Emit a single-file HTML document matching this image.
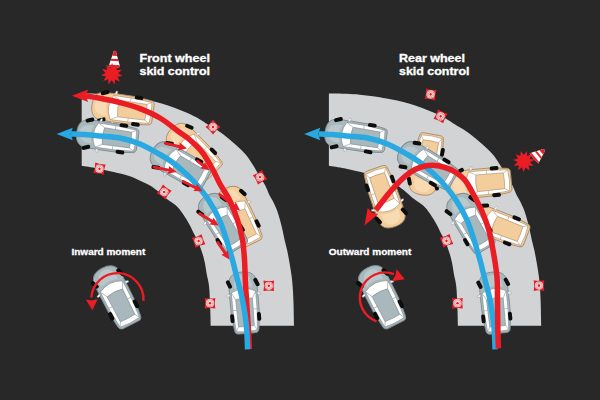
<!DOCTYPE html><html><head><meta charset="utf-8"><title>Skid control</title><style>html,body{margin:0;padding:0;background:#282828;}svg{display:block;font-family:"Liberation Sans",sans-serif;font-weight:bold;}</style></head><body>
<svg width="600" height="400" viewBox="0 0 600 400">
<rect width="600" height="400" fill="#282828"/>
<path d="M81.7,93.5 C84.6,93.5 94.1,93.6 99.2,93.8 C104.3,94.0 108.1,94.3 112.5,94.7 C116.9,95.1 121.3,95.7 125.8,96.3 C130.2,96.9 135.2,97.8 139.2,98.5 C143.2,99.2 146.1,99.7 150.0,100.6 C153.9,101.5 158.3,102.5 162.5,103.8 C166.7,105.0 170.8,106.5 175.0,108.1 C179.2,109.7 183.3,111.2 187.5,113.1 C191.7,115.0 196.7,117.6 200.0,119.4 C203.3,121.2 204.2,122.1 207.5,124.2 C210.8,126.3 215.8,129.0 220.0,131.9 C224.2,134.8 228.3,138.3 232.5,141.9 C236.7,145.5 241.5,149.7 245.0,153.8 C248.5,157.8 251.2,162.3 253.8,166.2 C256.2,170.2 258.1,174.2 260.0,177.3 C261.9,180.4 263.4,182.1 265.0,185.0 C266.6,187.9 268.1,192.4 269.4,195.0 C270.6,197.6 271.2,198.0 272.5,200.5 C273.8,203.0 275.6,206.8 276.9,210.0 C278.1,213.2 279.1,216.7 280.0,220.0 C280.9,223.3 281.7,226.7 282.5,230.0 C283.3,233.3 283.8,236.5 284.6,240.0 C285.4,243.5 286.4,246.8 287.3,251.0 C288.2,255.2 289.1,260.6 289.9,265.0 C290.6,269.4 291.3,273.3 291.8,277.5 C292.3,281.7 292.6,285.8 292.9,290.0 C293.2,294.2 293.3,296.6 293.5,302.5 C293.7,308.4 293.9,321.8 294.0,325.7 L210.7,325.7 C210.6,323.1 210.5,315.9 210.3,310.0 C210.1,304.1 209.7,294.7 209.4,290.0 C209.1,285.3 208.8,284.5 208.4,282.0 C208.0,279.5 207.5,278.0 206.9,275.0 C206.3,272.0 205.7,267.3 205.0,263.8 C204.3,260.2 203.7,257.5 202.5,253.8 C201.3,250.0 199.5,245.0 198.0,241.5 C196.5,238.0 195.0,235.8 193.6,233.0 C192.2,230.2 191.5,228.2 189.7,225.0 C187.9,221.8 185.1,217.0 182.8,213.8 C180.5,210.5 178.8,208.0 176.0,205.5 C173.2,203.0 169.1,200.8 166.2,198.5 C163.4,196.2 161.5,194.1 158.8,191.9 C156.0,189.8 153.5,187.7 150.0,185.6 C146.5,183.5 141.7,181.2 137.5,179.4 C133.3,177.6 129.6,176.1 125.0,174.8 C120.4,173.4 114.7,172.3 110.0,171.2 C105.3,170.2 101.7,169.2 97.0,168.3 C92.3,167.4 84.2,166.2 81.7,165.8 Z" fill="#d2d3d5"/>
<path d="M328.9,93.5 C331.8,93.5 341.3,93.6 346.4,93.8 C351.5,94.0 355.3,94.3 359.7,94.7 C364.1,95.1 368.6,95.7 373.0,96.3 C377.4,96.9 382.4,97.8 386.4,98.5 C390.4,99.2 393.3,99.7 397.2,100.6 C401.1,101.5 405.5,102.5 409.7,103.8 C413.9,105.0 418.0,106.5 422.2,108.1 C426.4,109.7 430.5,111.2 434.7,113.1 C438.9,115.0 443.9,117.6 447.2,119.4 C450.5,121.2 451.4,122.1 454.7,124.2 C458.0,126.3 463.0,129.0 467.2,131.9 C471.4,134.8 475.5,138.3 479.7,141.9 C483.9,145.5 488.7,149.7 492.2,153.8 C495.7,157.8 498.4,162.3 500.9,166.2 C503.4,170.2 505.3,174.2 507.2,177.3 C509.1,180.4 510.6,182.1 512.2,185.0 C513.8,187.9 515.3,192.4 516.6,195.0 C517.8,197.6 518.5,198.0 519.7,200.5 C521.0,203.0 522.8,206.8 524.1,210.0 C525.3,213.2 526.3,216.7 527.2,220.0 C528.1,223.3 528.9,226.7 529.7,230.0 C530.5,233.3 531.0,236.5 531.8,240.0 C532.6,243.5 533.6,246.8 534.5,251.0 C535.4,255.2 536.3,260.6 537.1,265.0 C537.8,269.4 538.5,273.3 539.0,277.5 C539.5,281.7 539.8,285.8 540.1,290.0 C540.4,294.2 540.5,296.6 540.7,302.5 C540.9,308.4 541.1,321.8 541.2,325.7 L457.9,325.7 C457.8,323.1 457.7,315.9 457.5,310.0 C457.3,304.1 456.9,294.7 456.6,290.0 C456.3,285.3 456.0,284.5 455.6,282.0 C455.2,279.5 454.7,278.0 454.1,275.0 C453.5,272.0 452.9,267.3 452.2,263.8 C451.5,260.2 450.9,257.5 449.7,253.8 C448.5,250.0 446.7,245.0 445.2,241.5 C443.7,238.0 442.2,235.8 440.8,233.0 C439.4,230.2 438.7,228.2 436.9,225.0 C435.1,221.8 432.3,217.0 430.0,213.8 C427.7,210.5 426.0,208.0 423.2,205.5 C420.4,203.0 416.3,200.8 413.4,198.5 C410.6,196.2 408.7,194.1 405.9,191.9 C403.2,189.8 400.7,187.7 397.2,185.6 C393.7,183.5 388.9,181.2 384.7,179.4 C380.5,177.6 376.8,176.1 372.2,174.8 C367.6,173.4 361.9,172.3 357.2,171.2 C352.5,170.2 348.9,169.2 344.2,168.3 C339.5,167.4 331.4,166.2 328.9,165.8 Z" fill="#d2d3d5"/>
<g transform="translate(213.0,127.0) rotate(45.0)"><path d="M-5.3,-5.3 Q0,-4.2 5.3,-5.3 Q4.2,0 5.3,5.3 Q0,4.2 -5.3,5.3 Q-4.2,0 -5.3,-5.3 Z" fill="#ea1c24"/><circle r="4.1" fill="#fff"/><circle r="3.5" fill="none" stroke="#6b3a3a" stroke-width="0.45"/><circle r="2.4" fill="none" stroke="#f29a9a" stroke-width="0.9"/><circle r="1.3" fill="#ea1c24"/></g>
<g transform="translate(99.5,168.7) rotate(10.0)"><path d="M-5.3,-5.3 Q0,-4.2 5.3,-5.3 Q4.2,0 5.3,5.3 Q0,4.2 -5.3,5.3 Q-4.2,0 -5.3,-5.3 Z" fill="#ea1c24"/><circle r="4.1" fill="#fff"/><circle r="3.5" fill="none" stroke="#6b3a3a" stroke-width="0.45"/><circle r="2.4" fill="none" stroke="#f29a9a" stroke-width="0.9"/><circle r="1.3" fill="#ea1c24"/></g>
<g transform="translate(164.2,192.0) rotate(35.0)"><path d="M-5.3,-5.3 Q0,-4.2 5.3,-5.3 Q4.2,0 5.3,5.3 Q0,4.2 -5.3,5.3 Q-4.2,0 -5.3,-5.3 Z" fill="#ea1c24"/><circle r="4.1" fill="#fff"/><circle r="3.5" fill="none" stroke="#6b3a3a" stroke-width="0.45"/><circle r="2.4" fill="none" stroke="#f29a9a" stroke-width="0.9"/><circle r="1.3" fill="#ea1c24"/></g>
<g transform="translate(198.6,241.0) rotate(70.0)"><path d="M-5.3,-5.3 Q0,-4.2 5.3,-5.3 Q4.2,0 5.3,5.3 Q0,4.2 -5.3,5.3 Q-4.2,0 -5.3,-5.3 Z" fill="#ea1c24"/><circle r="4.1" fill="#fff"/><circle r="3.5" fill="none" stroke="#6b3a3a" stroke-width="0.45"/><circle r="2.4" fill="none" stroke="#f29a9a" stroke-width="0.9"/><circle r="1.3" fill="#ea1c24"/></g>
<g transform="translate(260.0,177.2) rotate(60.0)"><path d="M-5.3,-5.3 Q0,-4.2 5.3,-5.3 Q4.2,0 5.3,5.3 Q0,4.2 -5.3,5.3 Q-4.2,0 -5.3,-5.3 Z" fill="#ea1c24"/><circle r="4.1" fill="#fff"/><circle r="3.5" fill="none" stroke="#6b3a3a" stroke-width="0.45"/><circle r="2.4" fill="none" stroke="#f29a9a" stroke-width="0.9"/><circle r="1.3" fill="#ea1c24"/></g>
<g transform="translate(268.8,285.8) rotate(0.0)"><path d="M-5.3,-5.3 Q0,-4.2 5.3,-5.3 Q4.2,0 5.3,5.3 Q0,4.2 -5.3,5.3 Q-4.2,0 -5.3,-5.3 Z" fill="#ea1c24"/><circle r="4.1" fill="#fff"/><circle r="3.5" fill="none" stroke="#6b3a3a" stroke-width="0.45"/><circle r="2.4" fill="none" stroke="#f29a9a" stroke-width="0.9"/><circle r="1.3" fill="#ea1c24"/></g>
<g transform="translate(210.0,303.2) rotate(0.0)"><path d="M-5.3,-5.3 Q0,-4.2 5.3,-5.3 Q4.2,0 5.3,5.3 Q0,4.2 -5.3,5.3 Q-4.2,0 -5.3,-5.3 Z" fill="#ea1c24"/><circle r="4.1" fill="#fff"/><circle r="3.5" fill="none" stroke="#6b3a3a" stroke-width="0.45"/><circle r="2.4" fill="none" stroke="#f29a9a" stroke-width="0.9"/><circle r="1.3" fill="#ea1c24"/></g>
<g transform="translate(430.6,94.4) rotate(8.0)"><path d="M-5.3,-5.3 Q0,-4.2 5.3,-5.3 Q4.2,0 5.3,5.3 Q0,4.2 -5.3,5.3 Q-4.2,0 -5.3,-5.3 Z" fill="#ea1c24"/><circle r="4.1" fill="#fff"/><circle r="3.5" fill="none" stroke="#6b3a3a" stroke-width="0.45"/><circle r="2.4" fill="none" stroke="#f29a9a" stroke-width="0.9"/><circle r="1.3" fill="#ea1c24"/></g>
<g transform="translate(440.6,116.3) rotate(25.0)"><path d="M-5.3,-5.3 Q0,-4.2 5.3,-5.3 Q4.2,0 5.3,5.3 Q0,4.2 -5.3,5.3 Q-4.2,0 -5.3,-5.3 Z" fill="#ea1c24"/><circle r="4.1" fill="#fff"/><circle r="3.5" fill="none" stroke="#6b3a3a" stroke-width="0.45"/><circle r="2.4" fill="none" stroke="#f29a9a" stroke-width="0.9"/><circle r="1.3" fill="#ea1c24"/></g>
<g transform="translate(446.5,240.8) rotate(70.0)"><path d="M-5.3,-5.3 Q0,-4.2 5.3,-5.3 Q4.2,0 5.3,5.3 Q0,4.2 -5.3,5.3 Q-4.2,0 -5.3,-5.3 Z" fill="#ea1c24"/><circle r="4.1" fill="#fff"/><circle r="3.5" fill="none" stroke="#6b3a3a" stroke-width="0.45"/><circle r="2.4" fill="none" stroke="#f29a9a" stroke-width="0.9"/><circle r="1.3" fill="#ea1c24"/></g>
<g transform="translate(539.0,285.6) rotate(0.0)"><path d="M-5.3,-5.3 Q0,-4.2 5.3,-5.3 Q4.2,0 5.3,5.3 Q0,4.2 -5.3,5.3 Q-4.2,0 -5.3,-5.3 Z" fill="#ea1c24"/><circle r="4.1" fill="#fff"/><circle r="3.5" fill="none" stroke="#6b3a3a" stroke-width="0.45"/><circle r="2.4" fill="none" stroke="#f29a9a" stroke-width="0.9"/><circle r="1.3" fill="#ea1c24"/></g>
<g transform="translate(457.5,303.2) rotate(0.0)"><path d="M-5.3,-5.3 Q0,-4.2 5.3,-5.3 Q4.2,0 5.3,5.3 Q0,4.2 -5.3,5.3 Q-4.2,0 -5.3,-5.3 Z" fill="#ea1c24"/><circle r="4.1" fill="#fff"/><circle r="3.5" fill="none" stroke="#6b3a3a" stroke-width="0.45"/><circle r="2.4" fill="none" stroke="#f29a9a" stroke-width="0.9"/><circle r="1.3" fill="#ea1c24"/></g>
<g transform="translate(244.4,302.7) rotate(-5.0) scale(1.000)"><path d="M-14,-18 C-14,-26.5 -10,-30.8 0,-30.8 C10,-30.8 14,-26.5 14,-18 L14.2,-6 L14,12 L12.2,27 C12,29.8 10.5,30.8 8,30.8 L-8,30.8 C-10.5,30.8 -12,29.8 -12.2,27 L-14,12 L-14.2,-6 Z" fill="#a9b8bc" stroke="#7e8c91" stroke-width="0.9"/><path d="M-9,-14.5 C-9.5,-24 -6,-28 0,-28 C6,-28 9.5,-24 9,-14.5 Q0,-18.5 -9,-14.5 Z" fill="#bac7cb"/><path d="M-13.8,-9.8 L-17,-8.6 L-16.8,-7 L-13.8,-7.4 Z M13.8,-9.8 L17,-8.6 L16.8,-7 L13.8,-7.4 Z" fill="#fff" stroke="#7e8c91" stroke-width="0.4"/><path d="M-12.2,-10.8 Q0,-17.5 12.2,-10.8 L12.1,8 L10.6,28.2 Q0,30 -10.6,28.2 L-12.1,8 Z" fill="#ffffff" stroke="#7e8c91" stroke-width="0.6"/><path d="M-12.2,-10.8 L-8.4,-3.8 M12.2,-10.8 L8.4,-3.8 M-10.6,28.2 L-7.9,23.6 M10.6,28.2 L7.9,23.6 M-12.1,7 L-8.4,7 M12.1,7 L8.4,7" stroke="#7e8c91" stroke-width="0.5" fill="none"/><path d="M-8.4,-3.8 Q0,-5.8 8.4,-3.8 L7.9,23.6 Q0,24.4 -7.9,23.6 Z" fill="#a9b8bc" stroke="#7e8c91" stroke-width="0.6"/><g fill="#0d0d0d"><rect x="-15.8" y="-23.9" width="4" height="8.8" rx="1.8" transform="rotate(-22 -13.8 -19.5)"/><rect x="11.8" y="-23.9" width="4" height="8.8" rx="1.8" transform="rotate(-22 13.8 -19.5)"/><rect x="-15.4" y="10.5" width="3.9" height="8.8" rx="1.8"/><rect x="11.5" y="10.5" width="3.9" height="8.8" rx="1.8"/></g></g>
<g transform="translate(239.0,216.0) rotate(-26.0) scale(1.000)"><path d="M-14,-18 C-14,-26.5 -10,-30.8 0,-30.8 C10,-30.8 14,-26.5 14,-18 L14.2,-6 L14,12 L12.2,27 C12,29.8 10.5,30.8 8,30.8 L-8,30.8 C-10.5,30.8 -12,29.8 -12.2,27 L-14,12 L-14.2,-6 Z" fill="#f4cd9c" stroke="#a88e6e" stroke-width="0.9"/><path d="M-9,-14.5 C-9.5,-24 -6,-28 0,-28 C6,-28 9.5,-24 9,-14.5 Q0,-18.5 -9,-14.5 Z" fill="#f8dab3"/><path d="M-13.8,-9.8 L-17,-8.6 L-16.8,-7 L-13.8,-7.4 Z M13.8,-9.8 L17,-8.6 L16.8,-7 L13.8,-7.4 Z" fill="#fff" stroke="#a88e6e" stroke-width="0.4"/><path d="M-12.2,-10.8 Q0,-17.5 12.2,-10.8 L12.1,8 L10.6,28.2 Q0,30 -10.6,28.2 L-12.1,8 Z" fill="#ffffff" stroke="#a88e6e" stroke-width="0.6"/><path d="M-12.2,-10.8 L-8.4,-3.8 M12.2,-10.8 L8.4,-3.8 M-10.6,28.2 L-7.9,23.6 M10.6,28.2 L7.9,23.6 M-12.1,7 L-8.4,7 M12.1,7 L8.4,7" stroke="#a88e6e" stroke-width="0.5" fill="none"/><path d="M-8.4,-3.8 Q0,-5.8 8.4,-3.8 L7.9,23.6 Q0,24.4 -7.9,23.6 Z" fill="#f4cd9c" stroke="#a88e6e" stroke-width="0.6"/><g fill="#0d0d0d"><rect x="-15.8" y="-23.9" width="4" height="8.8" rx="1.8" transform="rotate(-22 -13.8 -19.5)"/><rect x="11.8" y="-23.9" width="4" height="8.8" rx="1.8" transform="rotate(-22 13.8 -19.5)"/><rect x="-15.4" y="10.5" width="3.9" height="8.8" rx="1.8"/><rect x="11.5" y="10.5" width="3.9" height="8.8" rx="1.8"/></g></g>
<g transform="translate(222.3,222.3) rotate(-32.0) scale(1.000)"><path d="M-14,-18 C-14,-26.5 -10,-30.8 0,-30.8 C10,-30.8 14,-26.5 14,-18 L14.2,-6 L14,12 L12.2,27 C12,29.8 10.5,30.8 8,30.8 L-8,30.8 C-10.5,30.8 -12,29.8 -12.2,27 L-14,12 L-14.2,-6 Z" fill="#a9b8bc" stroke="#7e8c91" stroke-width="0.9"/><path d="M-9,-14.5 C-9.5,-24 -6,-28 0,-28 C6,-28 9.5,-24 9,-14.5 Q0,-18.5 -9,-14.5 Z" fill="#bac7cb"/><path d="M-13.8,-9.8 L-17,-8.6 L-16.8,-7 L-13.8,-7.4 Z M13.8,-9.8 L17,-8.6 L16.8,-7 L13.8,-7.4 Z" fill="#fff" stroke="#7e8c91" stroke-width="0.4"/><path d="M-12.2,-10.8 Q0,-17.5 12.2,-10.8 L12.1,8 L10.6,28.2 Q0,30 -10.6,28.2 L-12.1,8 Z" fill="#ffffff" stroke="#7e8c91" stroke-width="0.6"/><path d="M-12.2,-10.8 L-8.4,-3.8 M12.2,-10.8 L8.4,-3.8 M-10.6,28.2 L-7.9,23.6 M10.6,28.2 L7.9,23.6 M-12.1,7 L-8.4,7 M12.1,7 L8.4,7" stroke="#7e8c91" stroke-width="0.5" fill="none"/><path d="M-8.4,-3.8 Q0,-5.8 8.4,-3.8 L7.9,23.6 Q0,24.4 -7.9,23.6 Z" fill="#a9b8bc" stroke="#7e8c91" stroke-width="0.6"/><g fill="#0d0d0d"><rect x="-15.8" y="-23.9" width="4" height="8.8" rx="1.8" transform="rotate(-22 -13.8 -19.5)"/><rect x="11.8" y="-23.9" width="4" height="8.8" rx="1.8" transform="rotate(-22 13.8 -19.5)"/><rect x="-15.4" y="10.5" width="3.9" height="8.8" rx="1.8"/><rect x="11.5" y="10.5" width="3.9" height="8.8" rx="1.8"/></g></g>
<g transform="translate(193.4,150.3) rotate(-45.0) scale(1.000)"><path d="M-14,-18 C-14,-26.5 -10,-30.8 0,-30.8 C10,-30.8 14,-26.5 14,-18 L14.2,-6 L14,12 L12.2,27 C12,29.8 10.5,30.8 8,30.8 L-8,30.8 C-10.5,30.8 -12,29.8 -12.2,27 L-14,12 L-14.2,-6 Z" fill="#f4cd9c" stroke="#a88e6e" stroke-width="0.9"/><path d="M-9,-14.5 C-9.5,-24 -6,-28 0,-28 C6,-28 9.5,-24 9,-14.5 Q0,-18.5 -9,-14.5 Z" fill="#f8dab3"/><path d="M-13.8,-9.8 L-17,-8.6 L-16.8,-7 L-13.8,-7.4 Z M13.8,-9.8 L17,-8.6 L16.8,-7 L13.8,-7.4 Z" fill="#fff" stroke="#a88e6e" stroke-width="0.4"/><path d="M-12.2,-10.8 Q0,-17.5 12.2,-10.8 L12.1,8 L10.6,28.2 Q0,30 -10.6,28.2 L-12.1,8 Z" fill="#ffffff" stroke="#a88e6e" stroke-width="0.6"/><path d="M-12.2,-10.8 L-8.4,-3.8 M12.2,-10.8 L8.4,-3.8 M-10.6,28.2 L-7.9,23.6 M10.6,28.2 L7.9,23.6 M-12.1,7 L-8.4,7 M12.1,7 L8.4,7" stroke="#a88e6e" stroke-width="0.5" fill="none"/><path d="M-8.4,-3.8 Q0,-5.8 8.4,-3.8 L7.9,23.6 Q0,24.4 -7.9,23.6 Z" fill="#f4cd9c" stroke="#a88e6e" stroke-width="0.6"/><g fill="#0d0d0d"><rect x="-15.8" y="-23.9" width="4" height="8.8" rx="1.8" transform="rotate(-22 -13.8 -19.5)"/><rect x="11.8" y="-23.9" width="4" height="8.8" rx="1.8" transform="rotate(-22 13.8 -19.5)"/><rect x="-15.4" y="10.5" width="3.9" height="8.8" rx="1.8"/><rect x="11.5" y="10.5" width="3.9" height="8.8" rx="1.8"/></g></g>
<g transform="translate(179.6,165.0) rotate(-60.5) scale(1.000)"><path d="M-14,-18 C-14,-26.5 -10,-30.8 0,-30.8 C10,-30.8 14,-26.5 14,-18 L14.2,-6 L14,12 L12.2,27 C12,29.8 10.5,30.8 8,30.8 L-8,30.8 C-10.5,30.8 -12,29.8 -12.2,27 L-14,12 L-14.2,-6 Z" fill="#a9b8bc" stroke="#7e8c91" stroke-width="0.9"/><path d="M-9,-14.5 C-9.5,-24 -6,-28 0,-28 C6,-28 9.5,-24 9,-14.5 Q0,-18.5 -9,-14.5 Z" fill="#bac7cb"/><path d="M-13.8,-9.8 L-17,-8.6 L-16.8,-7 L-13.8,-7.4 Z M13.8,-9.8 L17,-8.6 L16.8,-7 L13.8,-7.4 Z" fill="#fff" stroke="#7e8c91" stroke-width="0.4"/><path d="M-12.2,-10.8 Q0,-17.5 12.2,-10.8 L12.1,8 L10.6,28.2 Q0,30 -10.6,28.2 L-12.1,8 Z" fill="#ffffff" stroke="#7e8c91" stroke-width="0.6"/><path d="M-12.2,-10.8 L-8.4,-3.8 M12.2,-10.8 L8.4,-3.8 M-10.6,28.2 L-7.9,23.6 M10.6,28.2 L7.9,23.6 M-12.1,7 L-8.4,7 M12.1,7 L8.4,7" stroke="#7e8c91" stroke-width="0.5" fill="none"/><path d="M-8.4,-3.8 Q0,-5.8 8.4,-3.8 L7.9,23.6 Q0,24.4 -7.9,23.6 Z" fill="#a9b8bc" stroke="#7e8c91" stroke-width="0.6"/><g fill="#0d0d0d"><rect x="-15.8" y="-23.9" width="4" height="8.8" rx="1.8" transform="rotate(-22 -13.8 -19.5)"/><rect x="11.8" y="-23.9" width="4" height="8.8" rx="1.8" transform="rotate(-22 13.8 -19.5)"/><rect x="-15.4" y="10.5" width="3.9" height="8.8" rx="1.8"/><rect x="11.5" y="10.5" width="3.9" height="8.8" rx="1.8"/></g></g>
<g transform="translate(122.5,109.0) rotate(-82.0) scale(1.000)"><path d="M-14,-18 C-14,-26.5 -10,-30.8 0,-30.8 C10,-30.8 14,-26.5 14,-18 L14.2,-6 L14,12 L12.2,27 C12,29.8 10.5,30.8 8,30.8 L-8,30.8 C-10.5,30.8 -12,29.8 -12.2,27 L-14,12 L-14.2,-6 Z" fill="#f4cd9c" stroke="#a88e6e" stroke-width="0.9"/><path d="M-9,-14.5 C-9.5,-24 -6,-28 0,-28 C6,-28 9.5,-24 9,-14.5 Q0,-18.5 -9,-14.5 Z" fill="#f8dab3"/><path d="M-13.8,-9.8 L-17,-8.6 L-16.8,-7 L-13.8,-7.4 Z M13.8,-9.8 L17,-8.6 L16.8,-7 L13.8,-7.4 Z" fill="#fff" stroke="#a88e6e" stroke-width="0.4"/><path d="M-12.2,-10.8 Q0,-17.5 12.2,-10.8 L12.1,8 L10.6,28.2 Q0,30 -10.6,28.2 L-12.1,8 Z" fill="#ffffff" stroke="#a88e6e" stroke-width="0.6"/><path d="M-12.2,-10.8 L-8.4,-3.8 M12.2,-10.8 L8.4,-3.8 M-10.6,28.2 L-7.9,23.6 M10.6,28.2 L7.9,23.6 M-12.1,7 L-8.4,7 M12.1,7 L8.4,7" stroke="#a88e6e" stroke-width="0.5" fill="none"/><path d="M-8.4,-3.8 Q0,-5.8 8.4,-3.8 L7.9,23.6 Q0,24.4 -7.9,23.6 Z" fill="#f4cd9c" stroke="#a88e6e" stroke-width="0.6"/><g fill="#0d0d0d"><rect x="-15.8" y="-23.9" width="4" height="8.8" rx="1.8" transform="rotate(-22 -13.8 -19.5)"/><rect x="11.8" y="-23.9" width="4" height="8.8" rx="1.8" transform="rotate(-22 13.8 -19.5)"/><rect x="-15.4" y="10.5" width="3.9" height="8.8" rx="1.8"/><rect x="11.5" y="10.5" width="3.9" height="8.8" rx="1.8"/></g></g>
<g transform="translate(107.2,136.6) rotate(-81.5) scale(1.000)"><path d="M-14,-18 C-14,-26.5 -10,-30.8 0,-30.8 C10,-30.8 14,-26.5 14,-18 L14.2,-6 L14,12 L12.2,27 C12,29.8 10.5,30.8 8,30.8 L-8,30.8 C-10.5,30.8 -12,29.8 -12.2,27 L-14,12 L-14.2,-6 Z" fill="#a9b8bc" stroke="#7e8c91" stroke-width="0.9"/><path d="M-9,-14.5 C-9.5,-24 -6,-28 0,-28 C6,-28 9.5,-24 9,-14.5 Q0,-18.5 -9,-14.5 Z" fill="#bac7cb"/><path d="M-13.8,-9.8 L-17,-8.6 L-16.8,-7 L-13.8,-7.4 Z M13.8,-9.8 L17,-8.6 L16.8,-7 L13.8,-7.4 Z" fill="#fff" stroke="#7e8c91" stroke-width="0.4"/><path d="M-12.2,-10.8 Q0,-17.5 12.2,-10.8 L12.1,8 L10.6,28.2 Q0,30 -10.6,28.2 L-12.1,8 Z" fill="#ffffff" stroke="#7e8c91" stroke-width="0.6"/><path d="M-12.2,-10.8 L-8.4,-3.8 M12.2,-10.8 L8.4,-3.8 M-10.6,28.2 L-7.9,23.6 M10.6,28.2 L7.9,23.6 M-12.1,7 L-8.4,7 M12.1,7 L8.4,7" stroke="#7e8c91" stroke-width="0.5" fill="none"/><path d="M-8.4,-3.8 Q0,-5.8 8.4,-3.8 L7.9,23.6 Q0,24.4 -7.9,23.6 Z" fill="#a9b8bc" stroke="#7e8c91" stroke-width="0.6"/><g fill="#0d0d0d"><rect x="-15.8" y="-23.9" width="4" height="8.8" rx="1.8" transform="rotate(-22 -13.8 -19.5)"/><rect x="11.8" y="-23.9" width="4" height="8.8" rx="1.8" transform="rotate(-22 13.8 -19.5)"/><rect x="-15.4" y="10.5" width="3.9" height="8.8" rx="1.8"/><rect x="11.5" y="10.5" width="3.9" height="8.8" rx="1.8"/></g></g>
<g transform="translate(495.2,302.7) rotate(-6.0) scale(1.000)"><path d="M-14,-18 C-14,-26.5 -10,-30.8 0,-30.8 C10,-30.8 14,-26.5 14,-18 L14.2,-6 L14,12 L12.2,27 C12,29.8 10.5,30.8 8,30.8 L-8,30.8 C-10.5,30.8 -12,29.8 -12.2,27 L-14,12 L-14.2,-6 Z" fill="#a9b8bc" stroke="#7e8c91" stroke-width="0.9"/><path d="M-9,-14.5 C-9.5,-24 -6,-28 0,-28 C6,-28 9.5,-24 9,-14.5 Q0,-18.5 -9,-14.5 Z" fill="#bac7cb"/><path d="M-13.8,-9.8 L-17,-8.6 L-16.8,-7 L-13.8,-7.4 Z M13.8,-9.8 L17,-8.6 L16.8,-7 L13.8,-7.4 Z" fill="#fff" stroke="#7e8c91" stroke-width="0.4"/><path d="M-12.2,-10.8 Q0,-17.5 12.2,-10.8 L12.1,8 L10.6,28.2 Q0,30 -10.6,28.2 L-12.1,8 Z" fill="#ffffff" stroke="#7e8c91" stroke-width="0.6"/><path d="M-12.2,-10.8 L-8.4,-3.8 M12.2,-10.8 L8.4,-3.8 M-10.6,28.2 L-7.9,23.6 M10.6,28.2 L7.9,23.6 M-12.1,7 L-8.4,7 M12.1,7 L8.4,7" stroke="#7e8c91" stroke-width="0.5" fill="none"/><path d="M-8.4,-3.8 Q0,-5.8 8.4,-3.8 L7.9,23.6 Q0,24.4 -7.9,23.6 Z" fill="#a9b8bc" stroke="#7e8c91" stroke-width="0.6"/><g fill="#0d0d0d"><rect x="-15.8" y="-23.9" width="4" height="8.8" rx="1.8" transform="rotate(-22 -13.8 -19.5)"/><rect x="11.8" y="-23.9" width="4" height="8.8" rx="1.8" transform="rotate(-22 13.8 -19.5)"/><rect x="-15.4" y="10.5" width="3.9" height="8.8" rx="1.8"/><rect x="11.5" y="10.5" width="3.9" height="8.8" rx="1.8"/></g></g>
<g transform="translate(498.0,225.5) rotate(-69.0) scale(1.000)"><path d="M-14,-18 C-14,-26.5 -10,-30.8 0,-30.8 C10,-30.8 14,-26.5 14,-18 L14.2,-6 L14,12 L12.2,27 C12,29.8 10.5,30.8 8,30.8 L-8,30.8 C-10.5,30.8 -12,29.8 -12.2,27 L-14,12 L-14.2,-6 Z" fill="#f4cd9c" stroke="#a88e6e" stroke-width="0.9"/><path d="M-9,-14.5 C-9.5,-24 -6,-28 0,-28 C6,-28 9.5,-24 9,-14.5 Q0,-18.5 -9,-14.5 Z" fill="#f8dab3"/><path d="M-13.8,-9.8 L-17,-8.6 L-16.8,-7 L-13.8,-7.4 Z M13.8,-9.8 L17,-8.6 L16.8,-7 L13.8,-7.4 Z" fill="#fff" stroke="#a88e6e" stroke-width="0.4"/><path d="M-12.2,-10.8 Q0,-17.5 12.2,-10.8 L12.1,8 L10.6,28.2 Q0,30 -10.6,28.2 L-12.1,8 Z" fill="#ffffff" stroke="#a88e6e" stroke-width="0.6"/><path d="M-12.2,-10.8 L-8.4,-3.8 M12.2,-10.8 L8.4,-3.8 M-10.6,28.2 L-7.9,23.6 M10.6,28.2 L7.9,23.6 M-12.1,7 L-8.4,7 M12.1,7 L8.4,7" stroke="#a88e6e" stroke-width="0.5" fill="none"/><path d="M-8.4,-3.8 Q0,-5.8 8.4,-3.8 L7.9,23.6 Q0,24.4 -7.9,23.6 Z" fill="#f4cd9c" stroke="#a88e6e" stroke-width="0.6"/><g fill="#0d0d0d"><rect x="-15.8" y="-23.9" width="4" height="8.8" rx="1.8" transform="rotate(-22 -13.8 -19.5)"/><rect x="11.8" y="-23.9" width="4" height="8.8" rx="1.8" transform="rotate(-22 13.8 -19.5)"/><rect x="-15.4" y="10.5" width="3.9" height="8.8" rx="1.8"/><rect x="11.5" y="10.5" width="3.9" height="8.8" rx="1.8"/></g></g>
<g transform="translate(480.5,183.0) rotate(-95.4) scale(1.000)"><path d="M-14,-18 C-14,-26.5 -10,-30.8 0,-30.8 C10,-30.8 14,-26.5 14,-18 L14.2,-6 L14,12 L12.2,27 C12,29.8 10.5,30.8 8,30.8 L-8,30.8 C-10.5,30.8 -12,29.8 -12.2,27 L-14,12 L-14.2,-6 Z" fill="#f4cd9c" stroke="#a88e6e" stroke-width="0.9"/><path d="M-9,-14.5 C-9.5,-24 -6,-28 0,-28 C6,-28 9.5,-24 9,-14.5 Q0,-18.5 -9,-14.5 Z" fill="#f8dab3"/><path d="M-13.8,-9.8 L-17,-8.6 L-16.8,-7 L-13.8,-7.4 Z M13.8,-9.8 L17,-8.6 L16.8,-7 L13.8,-7.4 Z" fill="#fff" stroke="#a88e6e" stroke-width="0.4"/><path d="M-12.2,-10.8 Q0,-17.5 12.2,-10.8 L12.1,8 L10.6,28.2 Q0,30 -10.6,28.2 L-12.1,8 Z" fill="#ffffff" stroke="#a88e6e" stroke-width="0.6"/><path d="M-12.2,-10.8 L-8.4,-3.8 M12.2,-10.8 L8.4,-3.8 M-10.6,28.2 L-7.9,23.6 M10.6,28.2 L7.9,23.6 M-12.1,7 L-8.4,7 M12.1,7 L8.4,7" stroke="#a88e6e" stroke-width="0.5" fill="none"/><path d="M-8.4,-3.8 Q0,-5.8 8.4,-3.8 L7.9,23.6 Q0,24.4 -7.9,23.6 Z" fill="#f4cd9c" stroke="#a88e6e" stroke-width="0.6"/><g fill="#0d0d0d"><rect x="-15.8" y="-23.9" width="4" height="8.8" rx="1.8" transform="rotate(-22 -13.8 -19.5)"/><rect x="11.8" y="-23.9" width="4" height="8.8" rx="1.8" transform="rotate(-22 13.8 -19.5)"/><rect x="-15.4" y="10.5" width="3.9" height="8.8" rx="1.8"/><rect x="11.5" y="10.5" width="3.9" height="8.8" rx="1.8"/></g></g>
<g transform="translate(470.3,222.5) rotate(-30.5) scale(1.000)"><path d="M-14,-18 C-14,-26.5 -10,-30.8 0,-30.8 C10,-30.8 14,-26.5 14,-18 L14.2,-6 L14,12 L12.2,27 C12,29.8 10.5,30.8 8,30.8 L-8,30.8 C-10.5,30.8 -12,29.8 -12.2,27 L-14,12 L-14.2,-6 Z" fill="#a9b8bc" stroke="#7e8c91" stroke-width="0.9"/><path d="M-9,-14.5 C-9.5,-24 -6,-28 0,-28 C6,-28 9.5,-24 9,-14.5 Q0,-18.5 -9,-14.5 Z" fill="#bac7cb"/><path d="M-13.8,-9.8 L-17,-8.6 L-16.8,-7 L-13.8,-7.4 Z M13.8,-9.8 L17,-8.6 L16.8,-7 L13.8,-7.4 Z" fill="#fff" stroke="#7e8c91" stroke-width="0.4"/><path d="M-12.2,-10.8 Q0,-17.5 12.2,-10.8 L12.1,8 L10.6,28.2 Q0,30 -10.6,28.2 L-12.1,8 Z" fill="#ffffff" stroke="#7e8c91" stroke-width="0.6"/><path d="M-12.2,-10.8 L-8.4,-3.8 M12.2,-10.8 L8.4,-3.8 M-10.6,28.2 L-7.9,23.6 M10.6,28.2 L7.9,23.6 M-12.1,7 L-8.4,7 M12.1,7 L8.4,7" stroke="#7e8c91" stroke-width="0.5" fill="none"/><path d="M-8.4,-3.8 Q0,-5.8 8.4,-3.8 L7.9,23.6 Q0,24.4 -7.9,23.6 Z" fill="#a9b8bc" stroke="#7e8c91" stroke-width="0.6"/><g fill="#0d0d0d"><rect x="-15.8" y="-23.9" width="4" height="8.8" rx="1.8" transform="rotate(-22 -13.8 -19.5)"/><rect x="11.8" y="-23.9" width="4" height="8.8" rx="1.8" transform="rotate(-22 13.8 -19.5)"/><rect x="-15.4" y="10.5" width="3.9" height="8.8" rx="1.8"/><rect x="11.5" y="10.5" width="3.9" height="8.8" rx="1.8"/></g></g>
<g transform="translate(426.5,164.5) rotate(-169.5) scale(1.000)"><path d="M-14,-18 C-14,-26.5 -10,-30.8 0,-30.8 C10,-30.8 14,-26.5 14,-18 L14.2,-6 L14,12 L12.2,27 C12,29.8 10.5,30.8 8,30.8 L-8,30.8 C-10.5,30.8 -12,29.8 -12.2,27 L-14,12 L-14.2,-6 Z" fill="#f4cd9c" stroke="#a88e6e" stroke-width="0.9"/><path d="M-9,-14.5 C-9.5,-24 -6,-28 0,-28 C6,-28 9.5,-24 9,-14.5 Q0,-18.5 -9,-14.5 Z" fill="#f8dab3"/><path d="M-13.8,-9.8 L-17,-8.6 L-16.8,-7 L-13.8,-7.4 Z M13.8,-9.8 L17,-8.6 L16.8,-7 L13.8,-7.4 Z" fill="#fff" stroke="#a88e6e" stroke-width="0.4"/><path d="M-12.2,-10.8 Q0,-17.5 12.2,-10.8 L12.1,8 L10.6,28.2 Q0,30 -10.6,28.2 L-12.1,8 Z" fill="#ffffff" stroke="#a88e6e" stroke-width="0.6"/><path d="M-12.2,-10.8 L-8.4,-3.8 M12.2,-10.8 L8.4,-3.8 M-10.6,28.2 L-7.9,23.6 M10.6,28.2 L7.9,23.6 M-12.1,7 L-8.4,7 M12.1,7 L8.4,7" stroke="#a88e6e" stroke-width="0.5" fill="none"/><path d="M-8.4,-3.8 Q0,-5.8 8.4,-3.8 L7.9,23.6 Q0,24.4 -7.9,23.6 Z" fill="#f4cd9c" stroke="#a88e6e" stroke-width="0.6"/><g fill="#0d0d0d"><rect x="-15.8" y="-23.9" width="4" height="8.8" rx="1.8" transform="rotate(-22 -13.8 -19.5)"/><rect x="11.8" y="-23.9" width="4" height="8.8" rx="1.8" transform="rotate(-22 13.8 -19.5)"/><rect x="-15.4" y="10.5" width="3.9" height="8.8" rx="1.8"/><rect x="11.5" y="10.5" width="3.9" height="8.8" rx="1.8"/></g></g>
<g transform="translate(426.8,164.9) rotate(-59.5) scale(1.000)"><path d="M-14,-18 C-14,-26.5 -10,-30.8 0,-30.8 C10,-30.8 14,-26.5 14,-18 L14.2,-6 L14,12 L12.2,27 C12,29.8 10.5,30.8 8,30.8 L-8,30.8 C-10.5,30.8 -12,29.8 -12.2,27 L-14,12 L-14.2,-6 Z" fill="#a9b8bc" stroke="#7e8c91" stroke-width="0.9"/><path d="M-9,-14.5 C-9.5,-24 -6,-28 0,-28 C6,-28 9.5,-24 9,-14.5 Q0,-18.5 -9,-14.5 Z" fill="#bac7cb"/><path d="M-13.8,-9.8 L-17,-8.6 L-16.8,-7 L-13.8,-7.4 Z M13.8,-9.8 L17,-8.6 L16.8,-7 L13.8,-7.4 Z" fill="#fff" stroke="#7e8c91" stroke-width="0.4"/><path d="M-12.2,-10.8 Q0,-17.5 12.2,-10.8 L12.1,8 L10.6,28.2 Q0,30 -10.6,28.2 L-12.1,8 Z" fill="#ffffff" stroke="#7e8c91" stroke-width="0.6"/><path d="M-12.2,-10.8 L-8.4,-3.8 M12.2,-10.8 L8.4,-3.8 M-10.6,28.2 L-7.9,23.6 M10.6,28.2 L7.9,23.6 M-12.1,7 L-8.4,7 M12.1,7 L8.4,7" stroke="#7e8c91" stroke-width="0.5" fill="none"/><path d="M-8.4,-3.8 Q0,-5.8 8.4,-3.8 L7.9,23.6 Q0,24.4 -7.9,23.6 Z" fill="#a9b8bc" stroke="#7e8c91" stroke-width="0.6"/><g fill="#0d0d0d"><rect x="-15.8" y="-23.9" width="4" height="8.8" rx="1.8" transform="rotate(-22 -13.8 -19.5)"/><rect x="11.8" y="-23.9" width="4" height="8.8" rx="1.8" transform="rotate(-22 13.8 -19.5)"/><rect x="-15.4" y="10.5" width="3.9" height="8.8" rx="1.8"/><rect x="11.5" y="10.5" width="3.9" height="8.8" rx="1.8"/></g></g>
<g transform="translate(384.9,197.5) rotate(160.7) scale(1.000)"><path d="M-14,-18 C-14,-26.5 -10,-30.8 0,-30.8 C10,-30.8 14,-26.5 14,-18 L14.2,-6 L14,12 L12.2,27 C12,29.8 10.5,30.8 8,30.8 L-8,30.8 C-10.5,30.8 -12,29.8 -12.2,27 L-14,12 L-14.2,-6 Z" fill="#f4cd9c" stroke="#a88e6e" stroke-width="0.9"/><path d="M-9,-14.5 C-9.5,-24 -6,-28 0,-28 C6,-28 9.5,-24 9,-14.5 Q0,-18.5 -9,-14.5 Z" fill="#f8dab3"/><path d="M-13.8,-9.8 L-17,-8.6 L-16.8,-7 L-13.8,-7.4 Z M13.8,-9.8 L17,-8.6 L16.8,-7 L13.8,-7.4 Z" fill="#fff" stroke="#a88e6e" stroke-width="0.4"/><path d="M-12.2,-10.8 Q0,-17.5 12.2,-10.8 L12.1,8 L10.6,28.2 Q0,30 -10.6,28.2 L-12.1,8 Z" fill="#ffffff" stroke="#a88e6e" stroke-width="0.6"/><path d="M-12.2,-10.8 L-8.4,-3.8 M12.2,-10.8 L8.4,-3.8 M-10.6,28.2 L-7.9,23.6 M10.6,28.2 L7.9,23.6 M-12.1,7 L-8.4,7 M12.1,7 L8.4,7" stroke="#a88e6e" stroke-width="0.5" fill="none"/><path d="M-8.4,-3.8 Q0,-5.8 8.4,-3.8 L7.9,23.6 Q0,24.4 -7.9,23.6 Z" fill="#f4cd9c" stroke="#a88e6e" stroke-width="0.6"/><g fill="#0d0d0d"><rect x="-15.8" y="-23.9" width="4" height="8.8" rx="1.8" transform="rotate(-22 -13.8 -19.5)"/><rect x="11.8" y="-23.9" width="4" height="8.8" rx="1.8" transform="rotate(-22 13.8 -19.5)"/><rect x="-15.4" y="10.5" width="3.9" height="8.8" rx="1.8"/><rect x="11.5" y="10.5" width="3.9" height="8.8" rx="1.8"/></g></g>
<g transform="translate(355.5,136.2) rotate(-81.0) scale(1.000)"><path d="M-14,-18 C-14,-26.5 -10,-30.8 0,-30.8 C10,-30.8 14,-26.5 14,-18 L14.2,-6 L14,12 L12.2,27 C12,29.8 10.5,30.8 8,30.8 L-8,30.8 C-10.5,30.8 -12,29.8 -12.2,27 L-14,12 L-14.2,-6 Z" fill="#a9b8bc" stroke="#7e8c91" stroke-width="0.9"/><path d="M-9,-14.5 C-9.5,-24 -6,-28 0,-28 C6,-28 9.5,-24 9,-14.5 Q0,-18.5 -9,-14.5 Z" fill="#bac7cb"/><path d="M-13.8,-9.8 L-17,-8.6 L-16.8,-7 L-13.8,-7.4 Z M13.8,-9.8 L17,-8.6 L16.8,-7 L13.8,-7.4 Z" fill="#fff" stroke="#7e8c91" stroke-width="0.4"/><path d="M-12.2,-10.8 Q0,-17.5 12.2,-10.8 L12.1,8 L10.6,28.2 Q0,30 -10.6,28.2 L-12.1,8 Z" fill="#ffffff" stroke="#7e8c91" stroke-width="0.6"/><path d="M-12.2,-10.8 L-8.4,-3.8 M12.2,-10.8 L8.4,-3.8 M-10.6,28.2 L-7.9,23.6 M10.6,28.2 L7.9,23.6 M-12.1,7 L-8.4,7 M12.1,7 L8.4,7" stroke="#7e8c91" stroke-width="0.5" fill="none"/><path d="M-8.4,-3.8 Q0,-5.8 8.4,-3.8 L7.9,23.6 Q0,24.4 -7.9,23.6 Z" fill="#a9b8bc" stroke="#7e8c91" stroke-width="0.6"/><g fill="#0d0d0d"><rect x="-15.8" y="-23.9" width="4" height="8.8" rx="1.8" transform="rotate(-22 -13.8 -19.5)"/><rect x="11.8" y="-23.9" width="4" height="8.8" rx="1.8" transform="rotate(-22 13.8 -19.5)"/><rect x="-15.4" y="10.5" width="3.9" height="8.8" rx="1.8"/><rect x="11.5" y="10.5" width="3.9" height="8.8" rx="1.8"/></g></g>
<path d="M249.3,349.0 C249.2,345.8 249.0,338.2 248.5,330.0 C248.0,321.8 247.0,308.3 246.5,300.0 C246.0,291.7 245.6,286.7 245.3,280.0 C245.0,273.3 245.0,266.7 244.5,260.0 C244.0,253.3 243.7,246.7 242.5,240.0 C241.3,233.3 239.7,226.7 237.5,220.0 C235.3,213.3 232.4,206.0 229.5,200.0 C226.6,194.0 222.9,189.3 220.0,184.0 C217.1,178.7 215.0,173.3 212.0,168.0 C209.0,162.7 205.7,156.7 202.0,152.0 C198.3,147.3 193.9,143.4 190.0,140.0 C186.1,136.6 183.5,135.2 178.5,131.5 C173.5,127.8 166.4,121.8 160.0,118.0 C153.6,114.2 146.7,111.2 140.0,108.6 C133.3,106.0 126.7,104.3 120.0,102.6 C113.3,100.9 105.7,99.4 100.0,98.3 C94.3,97.2 88.3,96.3 86.0,95.9" fill="none" stroke="#ea1c24" stroke-width="5.5" stroke-linecap="butt" stroke-linejoin="round"/>
<path d="M71.9,95.8 L88.1,89.5 L85.9,95.8 L88.1,102.0 Z" fill="#ea1c24"/>
<path d="M247.6,349.4 C247.4,345.3 247.2,333.2 246.3,325.0 C245.5,316.8 244.1,308.2 242.5,300.0 C240.9,291.8 238.2,282.7 236.5,276.0 C234.8,269.3 234.2,266.0 232.5,260.0 C230.8,254.0 228.7,246.7 226.5,240.0 C224.3,233.3 222.5,226.7 219.5,220.0 C216.5,213.3 212.4,206.0 208.5,200.0 C204.6,194.0 200.1,188.7 196.0,184.0 C191.9,179.3 188.0,175.7 184.0,172.0 C180.0,168.3 176.0,164.9 172.0,162.0 C168.0,159.1 165.3,157.5 160.0,154.5 C154.7,151.5 146.7,146.8 140.0,144.0 C133.3,141.2 126.7,139.3 120.0,138.0 C113.3,136.7 105.8,136.6 100.0,136.0 C94.2,135.4 89.8,134.9 85.0,134.6 C80.2,134.3 73.3,134.1 71.0,134.0" fill="none" stroke="#29a9e1" stroke-width="5.5" stroke-linecap="butt" stroke-linejoin="round"/>
<path d="M56.6,134.0 L72.8,127.8 L70.6,134.0 L72.8,140.2 Z" fill="#29a9e1"/>
<path d="M495.1,349.4 C494.9,345.3 494.7,333.2 493.8,325.0 C492.9,316.8 491.6,308.2 490.0,300.0 C488.4,291.8 485.7,282.7 484.0,276.0 C482.3,269.3 481.7,266.0 480.0,260.0 C478.3,254.0 476.2,246.7 474.0,240.0 C471.8,233.3 470.0,226.7 467.0,220.0 C464.0,213.3 459.9,206.0 456.0,200.0 C452.1,194.0 447.6,188.7 443.5,184.0 C439.4,179.3 435.5,175.7 431.5,172.0 C427.5,168.3 423.5,164.9 419.5,162.0 C415.5,159.1 412.8,157.5 407.5,154.5 C402.2,151.5 394.2,146.8 387.5,144.0 C380.8,141.2 374.2,139.3 367.5,138.0 C360.8,136.7 353.3,136.6 347.5,136.0 C341.7,135.4 337.3,134.9 332.5,134.6 C327.7,134.3 320.8,134.1 318.5,134.0" fill="none" stroke="#29a9e1" stroke-width="5.5" stroke-linecap="butt" stroke-linejoin="round"/>
<path d="M304.1,134.0 L320.3,127.8 L318.1,134.0 L320.3,140.2 Z" fill="#29a9e1"/>
<path d="M498.4,348.4 C498.3,344.5 497.9,333.1 497.8,325.0 C497.7,316.9 497.6,307.2 497.5,300.0 C497.4,292.8 497.5,287.0 497.3,282.0 C497.1,277.0 496.9,275.3 496.2,270.0 C495.5,264.7 494.2,256.7 493.0,250.0 C491.8,243.3 490.5,236.2 488.8,230.0 C487.0,223.8 485.0,218.3 482.5,212.5 C480.0,206.7 476.6,200.3 473.8,195.0 C470.9,189.7 468.3,184.3 465.2,180.5 C462.1,176.7 458.4,174.2 455.0,172.0 C451.6,169.8 448.8,168.6 445.0,167.5 C441.2,166.4 436.7,165.3 432.5,165.3 C428.3,165.3 423.8,166.1 420.0,167.3 C416.2,168.5 413.3,170.2 410.0,172.5 C406.7,174.8 403.5,177.5 400.0,181.0 C396.5,184.5 392.1,189.6 388.8,193.4 C385.6,197.2 382.7,201.2 380.5,204.0 C378.3,206.8 376.6,209.0 375.8,210.0" fill="none" stroke="#ea1c24" stroke-width="5.5" stroke-linecap="butt" stroke-linejoin="round"/>
<path d="M364.5,225.5 L367.7,207.8 L371.9,212.8 L378.2,213.9 Z" fill="#ea1c24"/>
<path d="M165.2,143.2 L180.4,146.9" stroke="#ea1c24" stroke-width="2.8" stroke-linecap="round"/><path d="M187.0,148.5 L177.8,150.4 L179.7,146.7 L179.7,142.6 Z" fill="#ea1c24"/>
<path d="M154.0,167.2 L169.8,170.4" stroke="#ea1c24" stroke-width="2.8" stroke-linecap="round"/><path d="M176.5,171.7 L167.4,174.0 L169.1,170.2 L168.9,166.1 Z" fill="#ea1c24"/>
<path d="M183.2,181.5 L196.6,188.2" stroke="#ea1c24" stroke-width="2.8" stroke-linecap="round"/><path d="M202.7,191.2 L193.3,191.0 L196.0,187.9 L196.9,183.8 Z" fill="#ea1c24"/>
<path d="M197.5,161.2 L204.1,166.1" stroke="#ea1c24" stroke-width="2.8" stroke-linecap="round"/><path d="M209.5,170.2 L200.3,168.3 L203.5,165.7 L205.1,161.9 Z" fill="#ea1c24"/>
<path d="M199.6,213.7 L212.9,221.8" stroke="#ea1c24" stroke-width="2.8" stroke-linecap="round"/><path d="M218.7,225.4 L209.4,224.4 L212.3,221.5 L213.5,217.5 Z" fill="#ea1c24"/>
<path d="M219.8,194.6 L234.7,206.3" stroke="#ea1c24" stroke-width="2.8" stroke-linecap="round"/><path d="M240.0,210.5 L230.8,208.4 L234.1,205.9 L235.8,202.1 Z" fill="#ea1c24"/>
<path d="M217.7,242.4 L225.6,253.9" stroke="#ea1c24" stroke-width="2.8" stroke-linecap="round"/><path d="M229.4,259.5 L221.3,254.7 L225.2,253.3 L227.9,250.2 Z" fill="#ea1c24"/>
<g transform="translate(114.3,66.8) rotate(2.0) scale(1.00,1.00)"><path d="M-5.8,0 L-1.1,-15.3 Q0,-16.6 1.1,-15.3 L5.8,0 Q0,1.8 -5.8,0 Z" fill="#fff"/><path d="M-1.1,-15.3 Q0,-16.6 1.1,-15.3 L2.4,-11 L-2.4,-11 Z" fill="#ea1c24"/><path d="M-3.3,-8 L3.3,-8 L4,-5.8 L-4,-5.8 Z" fill="#ea1c24"/><path d="M-5.2,-1.8 L5.2,-1.8 L5.8,0 Q0,1.8 -5.8,0 Z" fill="#ea1c24"/></g>
<polygon points="122.6,75.9 117.4,76.8 119.9,81.5 115.0,79.4 114.6,84.6 111.6,80.3 108.4,84.5 108.2,79.2 103.3,80.9 106.0,76.4 100.9,75.2 105.6,72.9 101.9,69.1 107.2,69.7 106.1,64.6 110.2,67.9 112.1,63.0 113.8,68.0 118.0,64.9 116.7,70.0 121.9,69.8 118.1,73.3" fill="#ea1c24"/>
<polygon points="533.6,165.9 528.5,165.5 529.6,170.4 525.5,167.4 523.7,172.1 522.0,167.3 517.9,170.3 519.0,165.4 513.9,165.7 517.6,162.1 513.1,159.7 518.1,158.6 515.7,154.2 520.4,156.0 520.8,150.9 523.8,155.0 526.9,151.0 527.2,156.0 532.0,154.3 529.6,158.7 534.5,159.8 530.0,162.2" fill="#ea1c24"/>
<g transform="translate(534.0,158.4) rotate(50.0) scale(1.17,0.86)"><path d="M-5.8,0 L-1.1,-15.3 Q0,-16.6 1.1,-15.3 L5.8,0 Q0,1.8 -5.8,0 Z" fill="#fff"/><path d="M-1.1,-15.3 Q0,-16.6 1.1,-15.3 L2.4,-11 L-2.4,-11 Z" fill="#ea1c24"/><path d="M-3.3,-8 L3.3,-8 L4,-5.8 L-4,-5.8 Z" fill="#ea1c24"/><path d="M-5.2,-1.8 L5.2,-1.8 L5.8,0 Q0,1.8 -5.8,0 Z" fill="#ea1c24"/></g>
<g transform="translate(116.6,296.4) rotate(-27.0) scale(1.030)"><path d="M-14,-18 C-14,-26.5 -10,-30.8 0,-30.8 C10,-30.8 14,-26.5 14,-18 L14.2,-6 L14,12 L12.2,27 C12,29.8 10.5,30.8 8,30.8 L-8,30.8 C-10.5,30.8 -12,29.8 -12.2,27 L-14,12 L-14.2,-6 Z" fill="#a9b8bc" stroke="#7e8c91" stroke-width="0.9"/><path d="M-9,-14.5 C-9.5,-24 -6,-28 0,-28 C6,-28 9.5,-24 9,-14.5 Q0,-18.5 -9,-14.5 Z" fill="#bac7cb"/><path d="M-13.8,-9.8 L-17,-8.6 L-16.8,-7 L-13.8,-7.4 Z M13.8,-9.8 L17,-8.6 L16.8,-7 L13.8,-7.4 Z" fill="#fff" stroke="#7e8c91" stroke-width="0.4"/><path d="M-12.2,-10.8 Q0,-17.5 12.2,-10.8 L12.1,8 L10.6,28.2 Q0,30 -10.6,28.2 L-12.1,8 Z" fill="#ffffff" stroke="#7e8c91" stroke-width="0.6"/><path d="M-12.2,-10.8 L-8.4,-3.8 M12.2,-10.8 L8.4,-3.8 M-10.6,28.2 L-7.9,23.6 M10.6,28.2 L7.9,23.6 M-12.1,7 L-8.4,7 M12.1,7 L8.4,7" stroke="#7e8c91" stroke-width="0.5" fill="none"/><path d="M-8.4,-3.8 Q0,-5.8 8.4,-3.8 L7.9,23.6 Q0,24.4 -7.9,23.6 Z" fill="#a9b8bc" stroke="#7e8c91" stroke-width="0.6"/><g fill="#0d0d0d"><rect x="-15.8" y="-23.9" width="4" height="8.8" rx="1.8" transform="rotate(-22 -13.8 -19.5)"/><rect x="11.8" y="-23.9" width="4" height="8.8" rx="1.8" transform="rotate(-22 13.8 -19.5)"/><rect x="-15.4" y="10.5" width="3.9" height="8.8" rx="1.8"/><rect x="11.5" y="10.5" width="3.9" height="8.8" rx="1.8"/></g></g>
<g transform="translate(381.6,296.2) rotate(-26.5) scale(1.030)"><path d="M-14,-18 C-14,-26.5 -10,-30.8 0,-30.8 C10,-30.8 14,-26.5 14,-18 L14.2,-6 L14,12 L12.2,27 C12,29.8 10.5,30.8 8,30.8 L-8,30.8 C-10.5,30.8 -12,29.8 -12.2,27 L-14,12 L-14.2,-6 Z" fill="#a9b8bc" stroke="#7e8c91" stroke-width="0.9"/><path d="M-9,-14.5 C-9.5,-24 -6,-28 0,-28 C6,-28 9.5,-24 9,-14.5 Q0,-18.5 -9,-14.5 Z" fill="#bac7cb"/><path d="M-13.8,-9.8 L-17,-8.6 L-16.8,-7 L-13.8,-7.4 Z M13.8,-9.8 L17,-8.6 L16.8,-7 L13.8,-7.4 Z" fill="#fff" stroke="#7e8c91" stroke-width="0.4"/><path d="M-12.2,-10.8 Q0,-17.5 12.2,-10.8 L12.1,8 L10.6,28.2 Q0,30 -10.6,28.2 L-12.1,8 Z" fill="#ffffff" stroke="#7e8c91" stroke-width="0.6"/><path d="M-12.2,-10.8 L-8.4,-3.8 M12.2,-10.8 L8.4,-3.8 M-10.6,28.2 L-7.9,23.6 M10.6,28.2 L7.9,23.6 M-12.1,7 L-8.4,7 M12.1,7 L8.4,7" stroke="#7e8c91" stroke-width="0.5" fill="none"/><path d="M-8.4,-3.8 Q0,-5.8 8.4,-3.8 L7.9,23.6 Q0,24.4 -7.9,23.6 Z" fill="#a9b8bc" stroke="#7e8c91" stroke-width="0.6"/><g fill="#0d0d0d"><rect x="-15.8" y="-23.9" width="4" height="8.8" rx="1.8" transform="rotate(-22 -13.8 -19.5)"/><rect x="11.8" y="-23.9" width="4" height="8.8" rx="1.8" transform="rotate(-22 13.8 -19.5)"/><rect x="-15.4" y="10.5" width="3.9" height="8.8" rx="1.8"/><rect x="11.5" y="10.5" width="3.9" height="8.8" rx="1.8"/></g></g>
<path d="M143.4,300.8 A26,26 0 0 0 91.4,297.5" fill="none" stroke="#ea1c24" stroke-width="2.4"/>
<path d="M92.4,310.2 L85.7,299.6 L91.8,300.5 L97.8,298.9 Z" fill="#ea1c24"/>
<path d="M376.5,321.4 A25.2,25.2 0 1 1 393.9,274.1" fill="none" stroke="#ea1c24" stroke-width="2.4"/>
<path d="M404.7,279.3 L391.8,281.2 L395.4,275.6 L396.6,269.1 Z" fill="#ea1c24"/>
<text x="139.5" y="62.3" font-size="10.2" fill="#fff" stroke="#fff" stroke-width="0.3" textLength="70.5" lengthAdjust="spacingAndGlyphs">Front wheel</text>
<text x="139.5" y="74.6" font-size="10.2" fill="#fff" stroke="#fff" stroke-width="0.3" textLength="70.5" lengthAdjust="spacingAndGlyphs">skid control</text>
<text x="399.0" y="62.2" font-size="10.2" fill="#fff" stroke="#fff" stroke-width="0.3" textLength="66.0" lengthAdjust="spacingAndGlyphs">Rear wheel</text>
<text x="399.0" y="74.5" font-size="10.2" fill="#fff" stroke="#fff" stroke-width="0.3" textLength="70.5" lengthAdjust="spacingAndGlyphs">skid control</text>
<text x="71.5" y="254.9" font-size="9.6" fill="#fff" stroke="#fff" stroke-width="0.3" textLength="73.8" lengthAdjust="spacingAndGlyphs">Inward moment</text>
<text x="328.8" y="254.9" font-size="9.6" fill="#fff" stroke="#fff" stroke-width="0.3" textLength="82.5" lengthAdjust="spacingAndGlyphs">Outward moment</text>
</svg></body></html>
